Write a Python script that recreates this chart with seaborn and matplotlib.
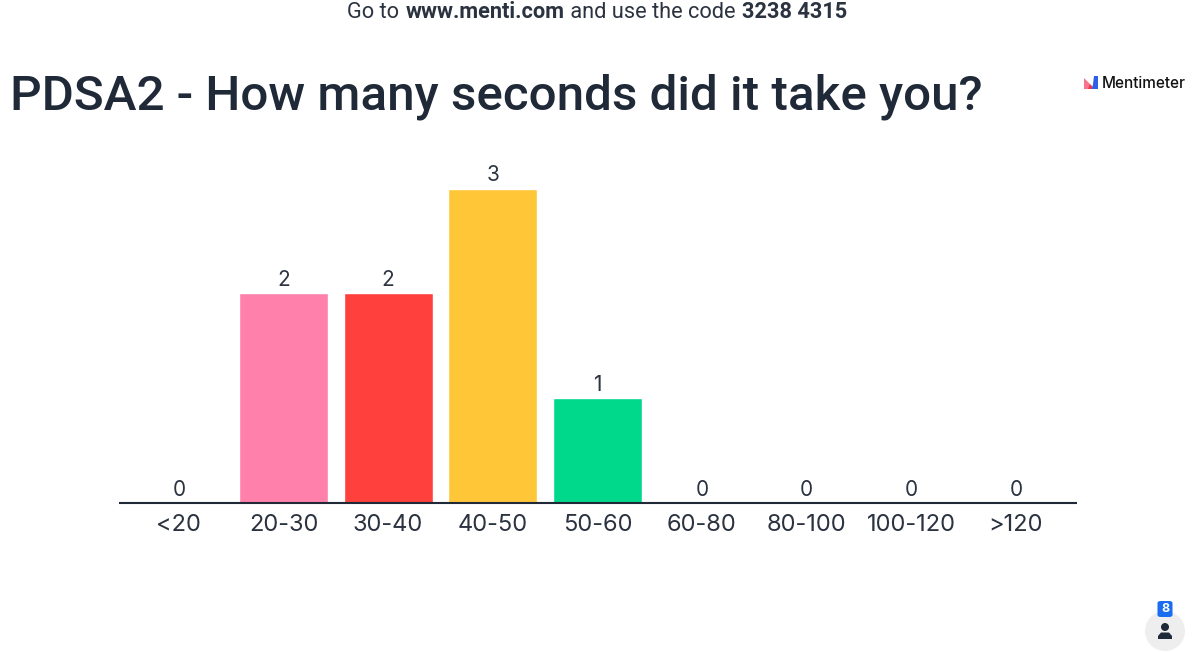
import matplotlib
matplotlib.use("Agg")
import matplotlib.pyplot as plt
from matplotlib.patches import FancyBboxPatch, Polygon, Ellipse
import seaborn as sns
import pandas as pd

categories = ["<20", "20-30", "30-40", "40-50", "50-60", "60-80", "80-100", "100-120", ">120"]
votes = [0, 2, 2, 3, 1, 0, 0, 0, 0]
colors = ["#5769e7", "#ff80ab", "#ff403d", "#ffc738", "#00d98b", "#5769e7", "#5769e7", "#5769e7", "#5769e7"]
title = "PDSA2 - How many seconds did it take you?"
header_runs = [("Go to ", 400), ("www.menti.com", 600), (" and use the code ", 400), ("3238 4315", 600)]

sns.set_theme(style="white")
plt.rcParams["font.family"] = ["Inter", "DejaVu Sans"]
W, H = 1200, 652
DARK = "#1f2937"
TEXT = "#2b3340"
fig = plt.figure(figsize=(W / 100, H / 100), dpi=100, facecolor="white")

def fx(x): return x / W
def fy(y): return 1 - y / H
def px(points): return [(fx(a), fy(b)) for a, b in points]

ax = fig.add_axes([fx(119.3), fy(503), (1076.5 - 119.3) / W, (503 - 188.5) / H])
df = pd.DataFrame({"cat": categories, "votes": votes})
sns.barplot(data=df, x="cat", y="votes", hue="cat", palette=colors, legend=False,
            width=0.85, saturation=1, ax=ax)
ax.set_xlim(-0.569, 8.58)
ax.set_ylim(0, 3)
ax.set_xlabel("")
ax.set_ylabel("")
ax.set_yticks([])
for s in ["top", "left", "right"]:
    ax.spines[s].set_visible(False)
ax.spines["bottom"].set_color(DARK)
ax.spines["bottom"].set_linewidth(1.5)
ax.spines["bottom"].set_capstyle("butt")
ax.tick_params(axis="x", length=0, pad=8, labelsize=17, labelcolor=TEXT)
for i, v in enumerate(votes):
    ax.annotate(str(v), (i, v), xytext=(0, 2.2), textcoords="offset points", ha="center",
                va="bottom", fontsize=15, color=TEXT, annotation_clip=False)

r = fig.canvas.get_renderer()
x = 347
for s, w in header_runs:
    t = fig.text(fx(x), fy(12), s, ha="left", va="center", fontsize=15.7, fontweight=w, color=TEXT,
                 family=["Roboto", "DejaVu Sans"])
    x += t.get_window_extent(r).width + (1.5 if s.endswith(" ") else 0)

fig.text(fx(10), fy(97), title, ha="left", va="center", fontsize=35.6, fontweight=500, color=DARK,
         family=["Roboto", "DejaVu Sans"])

for pts, c in [(px([(1084, 89), (1084, 78), (1090, 84), (1090, 89)]), "#f7748f"),
               (px([(1088, 89), (1090, 84), (1093, 87), (1092, 89)]), "#e8384f"),
               (px([(1092, 89), (1093, 84), (1094, 76), (1098, 76), (1098, 89)]), "#2f5fe8")]:
    fig.add_artist(Polygon(pts, closed=True, transform=fig.transFigure, fc=c, ec="none"))
fig.text(fx(1102), fy(83), "Mentimeter", ha="left", va="center", fontsize=11, fontweight=500, color="#111111")

fig.add_artist(Ellipse((fx(1165), fy(631)), 40 / W, 40 / H, transform=fig.transFigure, fc="#eeeeee", ec="none"))
fig.add_artist(FancyBboxPatch((fx(1157.5), fy(617)), 15 / W, 16 / H, boxstyle="round,pad=0,rounding_size=0.003",
                              transform=fig.transFigure, fc="#1a6cf0", ec="none"))
fig.text(fx(1165), fy(609), "8", ha="center", va="center", fontsize=9, fontweight=700, color="white")
fig.add_artist(Ellipse((fx(1165), fy(627)), 8 / W, 8 / H, transform=fig.transFigure, fc=DARK, ec="none"))
fig.add_artist(Polygon(px([(1158, 639), (1158, 636), (1161, 632.5), (1169, 632.5), (1172, 636), (1172, 639)]),
                       closed=True, transform=fig.transFigure, fc=DARK, ec="none"))

fig.savefig("out.png", dpi=100, facecolor="white")
